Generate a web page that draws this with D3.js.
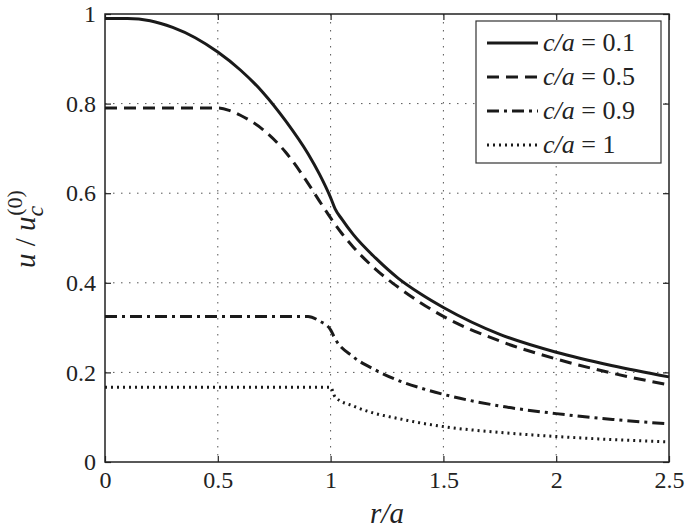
<!DOCTYPE html>
<html lang="en">
<meta charset="utf-8">
<script src="https://d3js.org/d3.v7.min.js"></script>
<style>
  body { margin: 0; background: #fff; }
</style>
<body>
<div id="my_dataviz"></div>
<script>
// values
var r1 = [0, 0.1, 0.2, 0.3, 0.4, 0.5, 0.6, 0.7, 0.8, 0.9, 0.95, 1.0, 1.02, 1.05, 1.1, 1.2, 1.3, 1.4, 1.5, 1.75, 2.0, 2.25, 2.5];
var u1 = [0.99, 0.99, 0.985, 0.97, 0.947, 0.915, 0.875, 0.825, 0.762, 0.688, 0.643, 0.59, 0.565, 0.542, 0.508, 0.455, 0.41, 0.375, 0.345, 0.285, 0.245, 0.215, 0.19];

var r2 = [0, 0.5, 0.55, 0.6, 0.7, 0.8, 0.9, 0.95, 1.0, 1.05, 1.1, 1.2, 1.3, 1.4, 1.5, 1.75, 2.0, 2.25, 2.5];
var u2 = [0.79, 0.79, 0.785, 0.774, 0.742, 0.692, 0.622, 0.583, 0.545, 0.51, 0.48, 0.43, 0.39, 0.355, 0.325, 0.27, 0.23, 0.198, 0.172];

var r3 = [0, 0.9, 0.95, 1.0, 1.02, 1.1, 1.2, 1.3, 1.4, 1.5, 1.75, 2.0, 2.25, 2.5];
var u3 = [0.325, 0.325, 0.315, 0.295, 0.275, 0.235, 0.205, 0.182, 0.165, 0.151, 0.125, 0.108, 0.095, 0.085];

var r4 = [0, 1.0, 1.02, 1.1, 1.2, 1.3, 1.4, 1.5, 1.75, 2.0, 2.25, 2.5];
var u4 = [0.167, 0.167, 0.145, 0.125, 0.108, 0.097, 0.087, 0.079, 0.066, 0.057, 0.05, 0.045];

var legendLabels = ["0.1", "0.5", "0.9", "1"];
var xTicks = [0, 0.5, 1, 1.5, 2, 2.5];
var yTicks = [0, 0.2, 0.4, 0.6, 0.8, 1];

var serif = "'Liberation Serif', 'Times New Roman', 'Nimbus Roman', FreeSerif, serif";

var margin = {top: 14, right: 16, bottom: 69, left: 105},
    width = 685 - margin.left - margin.right,
    height = 531 - margin.top - margin.bottom;

var svg = d3.select("#my_dataviz")
  .append("svg")
    .attr("width", 685)
    .attr("height", 531)
    .attr("font-family", serif)
  .append("g")
    .attr("transform", "translate(" + margin.left + "," + margin.top + ")");

var x = d3.scaleLinear().domain([0, 2.5]).range([0, width]);
var y = d3.scaleLinear().domain([0, 1]).range([height, 0]);

// grid
svg.append("g").selectAll("line").data(xTicks.slice(1, -1)).enter().append("line")
    .attr("x1", function(d) { return x(d); }).attr("x2", function(d) { return x(d); })
    .attr("y1", 0).attr("y2", height)
    .attr("stroke", "#555").attr("stroke-width", 1).attr("stroke-dasharray", "1.5,6.5");
svg.append("g").selectAll("line").data(yTicks.slice(1, -1)).enter().append("line")
    .attr("y1", function(d) { return y(d); }).attr("y2", function(d) { return y(d); })
    .attr("x1", 0).attr("x2", width)
    .attr("stroke", "#555").attr("stroke-width", 1).attr("stroke-dasharray", "1.5,6.5");

// axes with inward ticks
function styleAxis(g) {
  g.attr("font-family", serif).attr("font-size", 24);
  g.select(".domain").remove();
  g.selectAll(".tick line").attr("stroke", "#222").attr("stroke-width", 1.2);
  g.selectAll(".tick text").attr("fill", "#222");
}
svg.append("g")
    .attr("transform", "translate(0," + height + ")")
    .call(d3.axisBottom(x).tickValues(xTicks).tickSize(-6).tickPadding(9).tickFormat(d3.format("")))
    .call(styleAxis);
svg.append("g")
    .call(d3.axisLeft(y).tickValues(yTicks).tickSize(-6).tickPadding(9).tickFormat(d3.format("")))
    .call(styleAxis);
svg.append("g")
    .call(d3.axisTop(x).tickValues(xTicks).tickSize(-6).tickFormat(""))
    .call(styleAxis);
svg.append("g")
    .attr("transform", "translate(" + width + ",0)")
    .call(d3.axisRight(y).tickValues(yTicks).tickSize(-6).tickFormat(""))
    .call(styleAxis);

svg.append("rect")
    .attr("width", width).attr("height", height)
    .attr("fill", "none").attr("stroke", "#222").attr("stroke-width", 1.5);

// curves
var styles = [
  {r: r1, u: u1, dash: null},
  {r: r2, u: u2, dash: "12,7"},
  {r: r3, u: u3, dash: "12,5,3,5"},
  {r: r4, u: u4, dash: "2,4"}
];
var line = d3.line()
    .x(function(d) { return x(d[0]); })
    .y(function(d) { return y(d[1]); })
    .curve(d3.curveMonotoneX);

styles.forEach(function(s) {
  svg.append("path")
      .datum(d3.zip(s.r, s.u))
      .attr("d", line)
      .attr("fill", "none")
      .attr("stroke", "#1a1a1a")
      .attr("stroke-width", 3)
      .attr("stroke-dasharray", s.dash);
});

// legend
var lg = svg.append("g").attr("transform", "translate(" + (476 - margin.left) + "," + (21 - margin.top) + ")");
lg.append("rect").attr("width", 185).attr("height", 142)
    .attr("fill", "#fff").attr("stroke", "#333").attr("stroke-width", 1.2);
legendLabels.forEach(function(l, i) {
  var yy = 22 + i * 34;
  lg.append("line").attr("x1", 11).attr("x2", 62).attr("y1", yy).attr("y2", yy)
      .attr("stroke", "#1a1a1a").attr("stroke-width", 3)
      .attr("stroke-dasharray", styles[i].dash);
  var t = lg.append("text").attr("x", 67).attr("y", yy + 8)
      .attr("font-family", serif).attr("font-size", 26).attr("fill", "#222");
  t.append("tspan").attr("font-style", "italic").text("c/a");
  t.append("tspan").text(" = " + l);
});

// axis labels
var xl = svg.append("text")
    .attr("x", x(1.25)).attr("y", height + 61)
    .attr("text-anchor", "middle")
    .attr("font-family", serif).attr("font-size", 29).attr("fill", "#222");
xl.append("tspan").attr("font-style", "italic").text("r/a");

var yl = svg.append("text")
    .attr("transform", "translate(" + (-70) + "," + y(0.52) + ") rotate(-90)")
    .attr("text-anchor", "middle")
    .attr("font-family", serif).attr("font-size", 29).attr("fill", "#222");
yl.append("tspan").attr("font-style", "italic").text("u");
yl.append("tspan").text(" / ");
yl.append("tspan").attr("font-style", "italic").text("u");
yl.append("tspan").attr("font-style", "italic").attr("font-size", 24).attr("dy", 8).text("c");
yl.append("tspan").attr("font-size", 22).attr("dx", -10).attr("dy", -21).text("(0)");
</script>
</body>
</html>
